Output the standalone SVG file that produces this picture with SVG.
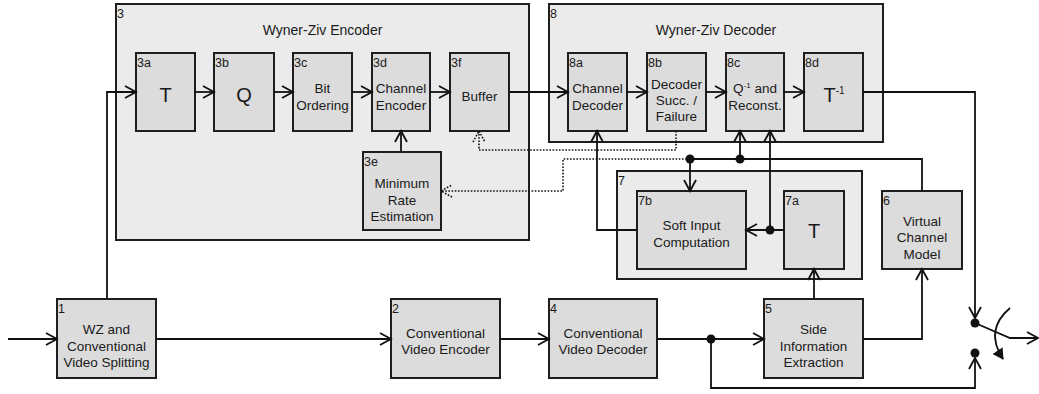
<svg xmlns="http://www.w3.org/2000/svg" width="1039" height="394" viewBox="0 0 1039 394">
<style>
text{font-family:"Liberation Sans",Arial,sans-serif;fill:#1a1a1a}
.outer{fill:#ebebeb;stroke:#1e1e1e;stroke-width:2}
.inner{fill:#dcdcdc;stroke:#1e1e1e;stroke-width:2}
.lbl{font-size:12.5px}
.t{font-size:13.5px;text-anchor:middle}
.big{font-size:20px;text-anchor:middle}
.title{font-size:14px;text-anchor:middle}
.ln{fill:none;stroke:#111;stroke-width:1.8}
.dot{fill:none;stroke:#111;stroke-width:1.6;stroke-dasharray:1.6 1.6}
.jn{fill:#111}
</style>
<defs>
<marker id="a" markerUnits="userSpaceOnUse" markerWidth="14" markerHeight="14" refX="12" refY="7" orient="auto">
<path d="M1,1 L12,7 L1,13" fill="none" stroke="#111" stroke-width="1.8"/>
</marker>
<marker id="ad" markerUnits="userSpaceOnUse" markerWidth="14" markerHeight="14" refX="12" refY="7" orient="auto">
<path d="M1,1 L12,7 L1,13" fill="none" stroke="#111" stroke-width="1.6" stroke-dasharray="1.6 1.6"/>
</marker>
<marker id="af" markerUnits="userSpaceOnUse" markerWidth="14" markerHeight="14" refX="10" refY="6" orient="auto">
<path d="M0,0 L11,6 L0,12 Z" fill="#111"/>
</marker>
</defs>

<g id="n3">
<rect class="outer" x="116" y="4" width="413" height="236"/>
<text class="lbl" x="117" y="18">3</text>
<text class="title" x="322.5" y="35">Wyner-Ziv Encoder</text>
</g>
<g id="n8">
<rect class="outer" x="549" y="4" width="334" height="138"/>
<text class="lbl" x="550" y="18">8</text>
<text class="title" x="716" y="35">Wyner-Ziv Decoder</text>
</g>
<g id="n7">
<rect class="outer" x="617" y="171" width="245" height="108"/>
<text class="lbl" x="618" y="185">7</text>
</g>

<g id="n3a">
<rect class="inner" x="136" y="53" width="59" height="78"/>
<text class="lbl" x="137" y="67">3a</text>
<text class="big" x="165.5" y="102">T</text>
</g>
<g id="n3b">
<rect class="inner" x="214" y="53" width="60" height="78"/>
<text class="lbl" x="215" y="67">3b</text>
<text class="big" x="244" y="102">Q</text>
</g>
<g id="n3c">
<rect class="inner" x="293" y="53" width="59" height="78"/>
<text class="lbl" x="294" y="67">3c</text>
<text class="t" x="322.5" y="93">Bit</text>
<text class="t" x="322.5" y="110">Ordering</text>
</g>
<g id="n3d">
<rect class="inner" x="372" y="53" width="58" height="78"/>
<text class="lbl" x="373" y="67">3d</text>
<text class="t" x="401" y="93">Channel</text>
<text class="t" x="401" y="110">Encoder</text>
</g>
<g id="n3f">
<rect class="inner" x="450" y="53" width="59" height="78"/>
<text class="lbl" x="451" y="67">3f</text>
<text class="t" x="479.5" y="101">Buffer</text>
</g>
<g id="n3e">
<rect class="inner" x="363" y="152" width="78" height="78"/>
<text class="lbl" x="364" y="166">3e</text>
<text class="t" x="402" y="188">Minimum</text>
<text class="t" x="402" y="205">Rate</text>
<text class="t" x="402" y="221">Estimation</text>
</g>

<g id="n8a">
<rect class="inner" x="568" y="53" width="59" height="78"/>
<text class="lbl" x="569" y="67">8a</text>
<text class="t" x="597.5" y="93">Channel</text>
<text class="t" x="597.5" y="110">Decoder</text>
</g>
<g id="n8b">
<rect class="inner" x="647" y="53" width="59" height="78"/>
<text class="lbl" x="648" y="67">8b</text>
<text class="t" x="676.5" y="89">Decoder</text>
<text class="t" x="676.5" y="105">Succ. /</text>
<text class="t" x="676.5" y="121">Failure</text>
</g>
<g id="n8c">
<rect class="inner" x="726" y="53" width="58" height="78"/>
<text class="lbl" x="727" y="67">8c</text>
<text class="t" x="755" y="93">Q<tspan font-size="8" dy="-5">-1</tspan><tspan dy="5"> and</tspan></text>
<text class="t" x="755" y="110">Reconst.</text>
</g>
<g id="n8d">
<rect class="inner" x="804" y="53" width="59" height="78"/>
<text class="lbl" x="805" y="67">8d</text>
<text class="big" x="834" y="102">T<tspan font-size="10" dy="-8">-1</tspan></text>
</g>

<g id="n7b">
<rect class="inner" x="637" y="191" width="109" height="78"/>
<text class="lbl" x="638" y="205">7b</text>
<text class="t" x="691.5" y="230">Soft Input</text>
<text class="t" x="691.5" y="247">Computation</text>
</g>
<g id="n7a">
<rect class="inner" x="784" y="191" width="60" height="78"/>
<text class="lbl" x="785" y="205">7a</text>
<text class="big" x="814" y="238">T</text>
</g>
<g id="n6">
<rect class="inner" x="882" y="191" width="80" height="78"/>
<text class="lbl" x="883" y="205">6</text>
<text class="t" x="922" y="226">Virtual</text>
<text class="t" x="922" y="242">Channel</text>
<text class="t" x="922" y="259">Model</text>
</g>

<g id="n1">
<rect class="inner" x="57" y="299" width="99" height="79"/>
<text class="lbl" x="58" y="313">1</text>
<text class="t" x="106.5" y="334">WZ and</text>
<text class="t" x="106.5" y="351">Conventional</text>
<text class="t" x="106.5" y="367">Video Splitting</text>
</g>
<g id="n2">
<rect class="inner" x="391" y="299" width="109" height="79"/>
<text class="lbl" x="392" y="313">2</text>
<text class="t" x="445.5" y="338">Conventional</text>
<text class="t" x="445.5" y="354">Video Encoder</text>
</g>
<g id="n4">
<rect class="inner" x="549" y="299" width="108" height="79"/>
<text class="lbl" x="550" y="313">4</text>
<text class="t" x="603" y="338">Conventional</text>
<text class="t" x="603" y="354">Video Decoder</text>
</g>
<g id="n5">
<rect class="inner" x="764" y="299" width="99" height="79"/>
<text class="lbl" x="765" y="313">5</text>
<text class="t" x="813.5" y="334">Side</text>
<text class="t" x="813.5" y="351">Information</text>
<text class="t" x="813.5" y="367">Extraction</text>
</g>

<g id="connectors">
<path class="ln" d="M8,339 H57" marker-end="url(#a)"/>
<path class="ln" d="M107,299 V92 H136" marker-end="url(#a)"/>
<path class="ln" d="M195,92 H214" marker-end="url(#a)"/>
<path class="ln" d="M274,92 H293" marker-end="url(#a)"/>
<path class="ln" d="M352,92 H372" marker-end="url(#a)"/>
<path class="ln" d="M430,92 H450" marker-end="url(#a)"/>
<path class="ln" d="M509,92 H568" marker-end="url(#a)"/>
<path class="ln" d="M627,92 H647" marker-end="url(#a)"/>
<path class="ln" d="M706,92 H726" marker-end="url(#a)"/>
<path class="ln" d="M784,92 H804" marker-end="url(#a)"/>
<path class="ln" d="M863,92 H975 V318" marker-end="url(#a)"/>
<path class="ln" d="M401,152 V131" marker-end="url(#a)"/>
<path class="dot" d="M676,131 V150 H479 V131" marker-end="url(#ad)"/>
<path class="dot" d="M690,159 H563 V191 H441" marker-end="url(#ad)"/>
<path class="ln" d="M922,191 V159 H690"/>
<path class="ln" d="M690,159 V191" marker-end="url(#a)"/>
<path class="ln" d="M740,159 V131" marker-end="url(#a)"/>
<path class="ln" d="M784,230 H746" marker-end="url(#a)"/>
<path class="ln" d="M770,230 V131" marker-end="url(#a)"/>
<path class="ln" d="M637,230 H597 V131" marker-end="url(#a)"/>
<path class="ln" d="M814,299 V269" marker-end="url(#a)"/>
<path class="ln" d="M863,339 H922 V269" marker-end="url(#a)"/>
<path class="ln" d="M156,339 H391" marker-end="url(#a)"/>
<path class="ln" d="M500,339 H549" marker-end="url(#a)"/>
<path class="ln" d="M657,339 H764" marker-end="url(#a)"/>
<path class="ln" d="M711,339 V388 H975 V358" marker-end="url(#a)"/>
<path class="ln" d="M975,323 L1010,338 H1038" marker-end="url(#a)"/>
<path class="ln" d="M1010,308 Q984,330 1003,359" marker-end="url(#af)"/>
<circle class="jn" cx="690" cy="159" r="4.5"/>
<circle class="jn" cx="740" cy="159" r="4.5"/>
<circle class="jn" cx="770" cy="230" r="4.5"/>
<circle class="jn" cx="711" cy="339" r="4.5"/>
<circle class="jn" cx="975" cy="323" r="4.5"/>
<circle class="jn" cx="975" cy="353" r="4.5"/>
</g>
</svg>
